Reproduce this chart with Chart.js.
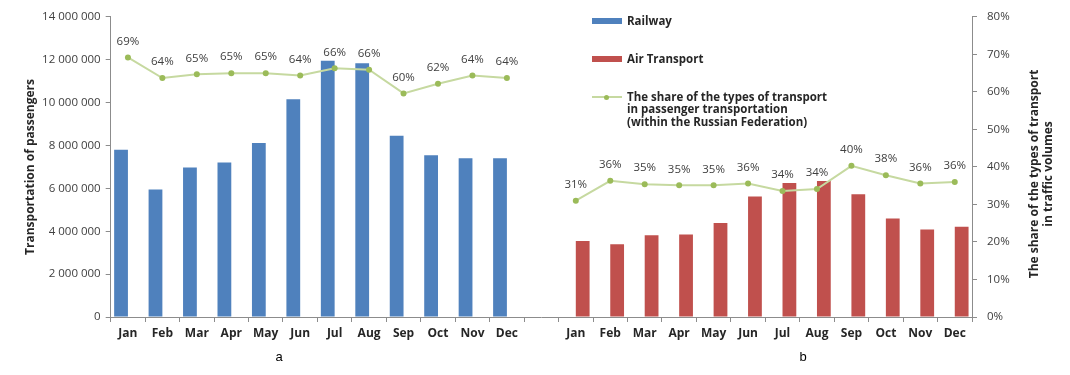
<!DOCTYPE html>
<html lang="en">
<head>
  <meta charset="UTF-8">
  <title>Passenger transportation by month</title>
  <script src="https://cdn.jsdelivr.net/npm/chart.js@4"></script>
  <style>
    body { margin: 0; background: #fff; font-family: "Open Sans", Arial, sans-serif; }
    #wrap { position: relative; width: 1070px; height: 375px; }
    #legend { position: absolute; left: 592px; top: 0; font-weight: bold; font-size: 11.5px; color: #262626; line-height: 12.3px; }
    .item { position: absolute; left: 0; white-space: nowrap; }
    .item .text { position: absolute; left: 35px; top: 0; }
    .swatch { position: absolute; left: 0; width: 30px; height: 6px; top: 3px; }
    .lineSw { position: absolute; left: 0; width: 30px; height: 2px; top: 5px; }
    .dot { position: absolute; left: 12px; top: 3.5px; width: 5px; height: 5px; border-radius: 50%; }
  </style>
</head>
<body>
  <div id="wrap">
    <canvas id="transportChart"></canvas>
    <div id="legend"></div>
  </div>

  <script>
    // months of one panel
    const months = ['Jan', 'Feb', 'Mar', 'Apr', 'May', 'Jun', 'Jul', 'Aug', 'Sep', 'Oct', 'Nov', 'Dec'];

    // passengers carried (a: railway, b: air transport)
    const railwayPassengers = [7800000, 5950000, 6970000, 7210000, 8120000, 10160000, 11960000, 11840000, 8460000, 7540000, 7410000, 7410000];
    const airPassengers = [3550000, 3390000, 3810000, 3850000, 4390000, 5620000, 6250000, 6340000, 5730000, 4590000, 4080000, 4210000];

    // share of the type of transport (%)
    const railwayShare = [69.2, 63.7, 64.7, 65.0, 65.0, 64.4, 66.3, 65.9, 59.6, 62.2, 64.4, 63.7];
    const airShare = [31.0, 36.3, 35.4, 35.1, 35.1, 35.6, 33.6, 34.1, 40.3, 37.8, 35.6, 36.0];

    // axis ranges
    const passengerMax = 14000000;
    const passengerStep = 2000000;
    const shareMax = 80;
    const shareStep = 10;

    const legendLabels = ['Railway', 'Air Transport', 'The share of the types of transport\nin passenger transportation\n(within the Russian Federation)'];
    const colors = { rail: '#4f81bd', air: '#c0504d', line: '#c6d9a0', point: '#9bbb59' };

    // both panels share one category axis with an empty slot between them
    const empty = months.map(() => null);
    const categories = [...months, '', ...months];
    const railAll = [...railwayPassengers, null, ...empty];
    const airAll = [...empty, null, ...airPassengers];
    const shareAll = [...railwayShare, null, ...airShare];

    function spaced(v) {
      return String(v).replace(/\B(?=(\d{3})+(?!\d))/g, ' ');
    }

    // percentage labels above points, right axis title, panel letters
    const extraText = {
      id: 'extraText',
      afterDatasetsDraw(chart) {
        const ctx = chart.ctx;
        const meta = chart.getDatasetMeta(0);
        ctx.save();
        ctx.font = '11.5px "Open Sans"';
        ctx.fillStyle = '#404040';
        ctx.textAlign = 'center';
        ctx.textBaseline = 'middle';
        meta.data.forEach((pt, i) => {
          if (shareAll[i] == null) return;
          ctx.fillText(Math.round(shareAll[i]) + '%', pt.x, pt.y - 16);
        });
        ctx.restore();
      },
      afterDraw(chart) {
        const ctx = chart.ctx;
        const area = chart.chartArea;
        ctx.save();
        ctx.fillStyle = '#262626';
        ctx.font = 'bold 12px "Open Sans"';
        ctx.textAlign = 'center';
        ctx.textBaseline = 'middle';
        ctx.translate(chart.width - 35, (area.top + area.bottom) / 2 + 7);
        ctx.rotate(-Math.PI / 2);
        ctx.fillText('The share of the types of transport', 0, 0);
        ctx.fillText('in traffic volumes', 0, 14);
        ctx.restore();

        ctx.save();
        ctx.fillStyle = '#000';
        ctx.font = '13px "Liberation Sans"';
        ctx.textAlign = 'center';
        ctx.textBaseline = 'middle';
        ctx.fillText('a', 279, 357);
        ctx.fillText('b', 803, 357);
        ctx.restore();
      }
    };

    const axisGrid = { drawOnChartArea: false, tickLength: 5, color: '#8c8c8c' };

    new Chart(document.getElementById('transportChart'), {
      data: {
        labels: categories,
        datasets: [
          {
            type: 'line',
            label: legendLabels[2],
            data: shareAll,
            yAxisID: 'y1',
            borderColor: colors.line,
            borderWidth: 2,
            pointRadius: 3,
            pointBorderWidth: 0,
            pointBackgroundColor: colors.point,
            spanGaps: false,
            tension: 0,
            order: 0
          },
          {
            type: 'bar',
            label: legendLabels[0],
            data: railAll,
            yAxisID: 'y',
            backgroundColor: colors.rail,
            categoryPercentage: 0.8,
            barPercentage: 1.0,
            order: 1
          },
          {
            type: 'bar',
            label: legendLabels[1],
            data: airAll,
            yAxisID: 'y',
            backgroundColor: colors.air,
            categoryPercentage: 0.8,
            barPercentage: 1.0,
            order: 1
          }
        ]
      },
      options: {
        responsive: true,
        maintainAspectRatio: false,
        animation: false,
        layout: { padding: { top: 13, left: 0, right: 0, bottom: 0 } },
        plugins: { legend: { display: false }, tooltip: { enabled: false } },
        scales: {
          x: {
            offset: true,
            grid: { ...axisGrid, offset: true },
            border: { color: '#8c8c8c' },
            ticks: { autoSkip: false, maxRotation: 0, padding: 4, color: '#262626', font: { family: 'Open Sans', size: 12, weight: 'bold' } },
            afterFit: s => { s.height = 58; }
          },
          y: {
            position: 'left',
            min: 0,
            max: passengerMax,
            grid: axisGrid,
            border: { color: '#8c8c8c' },
            ticks: { stepSize: passengerStep, padding: 5, color: '#404040', font: { family: 'Open Sans', size: 11.5 }, callback: v => spaced(v) },
            title: { display: true, text: 'Transportation of passengers', color: '#262626', font: { family: 'Open Sans', size: 12, weight: 'bold' }, padding: { top: 23, bottom: 0 } },
            afterFit: s => { s.width = 110.7; }
          },
          y1: {
            position: 'right',
            min: 0,
            max: shareMax,
            grid: axisGrid,
            border: { color: '#8c8c8c' },
            ticks: { stepSize: shareStep, padding: 10, color: '#404040', font: { family: 'Open Sans', size: 11.5 }, callback: v => v + '%' },
            afterFit: s => { s.width = 98; }
          }
        }
      },
      plugins: [extraText]
    });

    // legend placed inside the right panel
    const legend = document.getElementById('legend');
    const items = [
      { top: 15, html: '<div class="swatch" style="background:' + colors.rail + '"></div>', text: legendLabels[0] },
      { top: 53, html: '<div class="swatch" style="background:' + colors.air + '"></div>', text: legendLabels[1] },
      { top: 91, html: '<div class="lineSw" style="background:' + colors.line + '"></div><div class="dot" style="background:' + colors.point + '"></div>', text: legendLabels[2] }
    ];
    items.forEach(it => {
      const d = document.createElement('div');
      d.className = 'item';
      d.style.top = it.top + 'px';
      d.innerHTML = it.html + '<div class="text">' + it.text.split('\n').join('<br>') + '</div>';
      legend.appendChild(d);
    });
  </script>
</body>
</html>
